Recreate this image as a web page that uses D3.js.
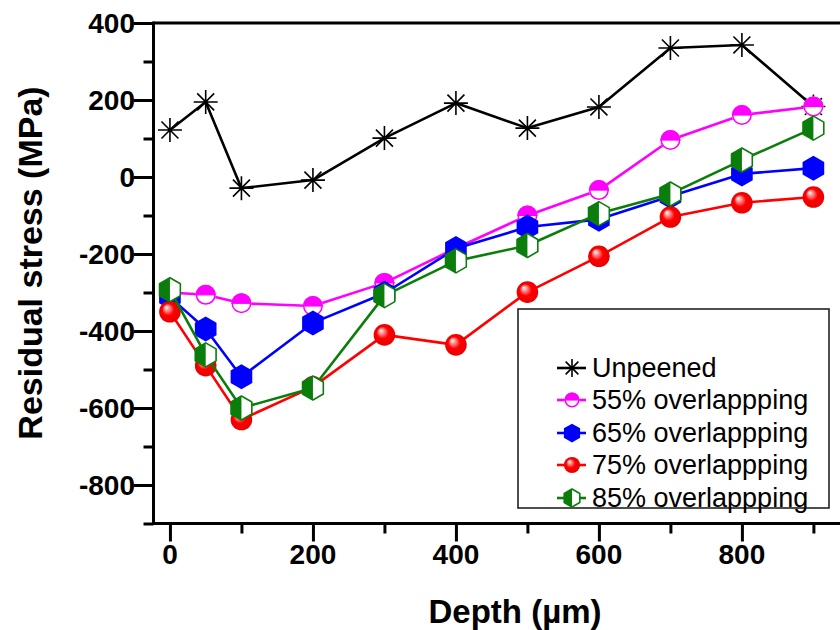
<!DOCTYPE html>
<html>
<head>
<meta charset="utf-8">
<script src="https://cdn.jsdelivr.net/npm/d3@7"></script>
<style>
  html, body { margin: 0; padding: 0; background: #fff; }
  svg { display: block; }
  text { font-family: "Liberation Sans", Arial, sans-serif; fill: #000; }
</style>
</head>
<body>
<svg id="chart" width="840" height="630"></svg>
<script>
// Depth positions (µm)
const depth = [0, 50, 100, 200, 300, 400, 500, 600, 700, 800, 900];

// Residual stress (MPa) for each condition
const unpeened = [122, 195, -29, -8, 101, 192, 127, 182, 335, 343, 183];
const overlap55 = [-300, -306, -328, -335, -275, -185, -100, -34, 96, 161, 183];
const overlap65 = [-312, -395, -519, -379, -302, -186, -130, -110, -50, 8, 23];
const overlap75 = [-350, -490, -630, -545, -410, -436, -299, -206, -104, -67, -52];
const overlap85 = [-293, -462, -600, -548, -308, -218, -178, -95, -44, 44, 127];

const seriesNames = ["Unpeened", "55% overlappping", "65% overlappping", "75% overlappping", "85% overlappping"];
const seriesColors = ["#000000", "#ff00ff", "#0000ff", "#ff0000", "#0a7d0a"];
const seriesMarkers = ["star", "halfCircle", "hexagon", "sphere", "halfHexagon"];

const xTickLabels = [0, 200, 400, 600, 800];
const yTickLabels = [-800, -600, -400, -200, 0, 200, 400];

const xTitle = "Depth (\u00b5m)";
const yTitle = "Residual stress (MPa)";

// ---------------------------------------------------------------
const svg = d3.select("#chart");
const defs = svg.append("defs");

const x = d3.scaleLinear().domain([-23, 940]).range([153.5, 842]);
const y = d3.scaleLinear().domain([-900, 400]).range([523.5, 23]);

const grad = defs.append("radialGradient")
  .attr("id", "sphereRed").attr("cx", "50%").attr("cy", "50%").attr("r", "50%")
  .attr("fx", "32%").attr("fy", "28%");
grad.append("stop").attr("offset", "0%").attr("stop-color", "#ffffff");
grad.append("stop").attr("offset", "22%").attr("stop-color", "#ff9a9a");
grad.append("stop").attr("offset", "55%").attr("stop-color", "#ff0000");
grad.append("stop").attr("offset", "100%").attr("stop-color", "#e80000");

defs.append("clipPath").attr("id", "plotClip")
  .append("rect").attr("x", 0).attr("y", 0).attr("width", 840).attr("height", 630);

function hexPoints(R) {
  return d3.range(6).map(i => {
    const a = (-90 + 60 * i) * Math.PI / 180;
    return [R * Math.cos(a), R * Math.sin(a)];
  });
}

function drawMarker(g, type, color, s) {
  if (type === "star") {
    const R = 12 * s;
    const p = d3.path();
    for (let i = 0; i < 4; i++) {
      const a = i * Math.PI / 4;
      p.moveTo(-R * Math.cos(a), -R * Math.sin(a));
      p.lineTo(R * Math.cos(a), R * Math.sin(a));
    }
    g.append("path").attr("d", p.toString())
      .attr("stroke", color).attr("stroke-width", 1.6).attr("fill", "none");
  } else if (type === "halfCircle") {
    const r = 10 * s;
    g.append("circle").attr("r", r).attr("fill", "#fff");
    g.append("path")
      .attr("d", `M${-r},0 A${r},${r} 0 0 1 ${r},0 Z`)
      .attr("fill", color);
    g.append("circle").attr("r", r - 0.75).attr("fill", "none")
      .attr("stroke", color).attr("stroke-width", 1.5);
    g.append("line").attr("x1", -r).attr("x2", r).attr("y1", 0).attr("y2", 0)
      .attr("stroke", color).attr("stroke-width", 1.2);
  } else if (type === "hexagon") {
    const pts = hexPoints(12.5 * s);
    g.append("polygon").attr("points", pts.map(d => d.join(",")).join(" "))
      .attr("fill", color);
  } else if (type === "sphere") {
    g.append("circle").attr("r", 10.8 * s).attr("fill", "url(#sphereRed)");
  } else if (type === "halfHexagon") {
    const R = 12 * s;
    const pts = hexPoints(R);
    g.append("polygon").attr("points", pts.map(d => d.join(",")).join(" "))
      .attr("fill", "#fff");
    // left half: top, upper-left, lower-left, bottom
    const left = [pts[0], pts[5], pts[4], pts[3]];
    g.append("polygon").attr("points", left.map(d => d.join(",")).join(" "))
      .attr("fill", color);
    g.append("polygon").attr("points", pts.map(d => d.join(",")).join(" "))
      .attr("fill", "none").attr("stroke", color).attr("stroke-width", 1.6)
      .attr("stroke-linejoin", "round");
  }
}

// ---------------- data series ----------------
const allSeries = [unpeened, overlap55, overlap65, overlap75, overlap85];
const line = d3.line().x(d => x(d[0])).y(d => y(d[1]));
const plot = svg.append("g").attr("clip-path", "url(#plotClip)");

allSeries.forEach((vals, i) => {
  const pts = depth.map((d, j) => [d, vals[j]]);
  const g = plot.append("g");
  g.append("path").datum(pts).attr("d", line)
    .attr("fill", "none").attr("stroke", seriesColors[i])
    .attr("stroke-width", 2.6).attr("stroke-linejoin", "round");
  pts.forEach(p => {
    const m = g.append("g").attr("transform", `translate(${x(p[0])},${y(p[1])})`);
    drawMarker(m, seriesMarkers[i], seriesColors[i], 1);
  });
});

// ---------------- axes ----------------
const axisW = 3;
const xMajor = d3.range(0, 901, 200);
const xMinor = d3.range(100, 901, 200);
const yMajor = yTickLabels;
const yMinor = d3.range(-900, 401, 200);

const axes = svg.append("g").attr("stroke", "#000").attr("stroke-width", axisW);

// x axis
const xAxis = d3.axisBottom(x).tickValues(xMajor).tickSize(18).tickFormat("");
const xg = svg.append("g").attr("transform", `translate(0,${y(-900)})`).call(xAxis);
xg.select(".domain").remove();
xg.selectAll(".tick line").attr("stroke-width", axisW);
const xAxisMinor = d3.axisBottom(x).tickValues(xMinor).tickSize(10).tickFormat("");
const xgm = svg.append("g").attr("transform", `translate(0,${y(-900)})`).call(xAxisMinor);
xgm.select(".domain").remove();
xgm.selectAll(".tick line").attr("stroke-width", axisW);

// y axis
const yAxis = d3.axisLeft(y).tickValues(yMajor).tickSize(20).tickFormat("");
const yg = svg.append("g").attr("transform", `translate(${x(-23)},0)`).call(yAxis);
yg.select(".domain").remove();
yg.selectAll(".tick line").attr("stroke-width", axisW);
const yAxisMinor = d3.axisLeft(y).tickValues(yMinor).tickSize(10).tickFormat("");
const ygm = svg.append("g").attr("transform", `translate(${x(-23)},0)`).call(yAxisMinor);
ygm.select(".domain").remove();
ygm.selectAll(".tick line").attr("stroke-width", axisW);

// frame lines: left, bottom, top
axes.append("line").attr("x1", x(-23)).attr("x2", x(-23)).attr("y1", y(400) - 1.5).attr("y2", y(-900) + 1.5);
axes.append("line").attr("x1", x(-23)).attr("x2", 840).attr("y1", y(-900)).attr("y2", y(-900));
axes.append("line").attr("x1", x(-23)).attr("x2", 840).attr("y1", y(400)).attr("y2", y(400));

// tick labels
svg.append("g").selectAll("text").data(xTickLabels).join("text")
  .attr("x", d => x(d)).attr("y", 564)
  .attr("text-anchor", "middle").attr("font-size", 28).attr("font-weight", "bold")
  .text(d => d);

svg.append("g").selectAll("text").data(yTickLabels).join("text")
  .attr("x", 135).attr("y", d => y(d) + 10)
  .attr("text-anchor", "end").attr("font-size", 28).attr("font-weight", "bold")
  .text(d => d);

// axis titles
svg.append("text").attr("x", 515).attr("y", 623)
  .attr("text-anchor", "middle").attr("font-size", 33).attr("font-weight", "bold")
  .text(xTitle);
svg.append("text").attr("transform", "translate(42,263) rotate(-90)")
  .attr("text-anchor", "middle").attr("font-size", 34).attr("font-weight", "bold")
  .text(yTitle);

// ---------------- legend ----------------
const legend = svg.append("g");
legend.append("rect").attr("x", 518).attr("y", 309).attr("width", 311).attr("height", 199)
  .attr("fill", "#fff").attr("stroke", "#222").attr("stroke-width", 1.6);
const rowY = [368, 400, 433, 465, 498];
seriesNames.forEach((name, i) => {
  const g = legend.append("g");
  g.append("line").attr("x1", 557).attr("x2", 586).attr("y1", rowY[i]).attr("y2", rowY[i])
    .attr("stroke", seriesColors[i]).attr("stroke-width", 2.6);
  const m = g.append("g").attr("transform", `translate(572,${rowY[i]})`);
  drawMarker(m, seriesMarkers[i], seriesColors[i], 0.75);
  g.append("text").attr("x", 592).attr("y", rowY[i] + 9)
    .attr("font-size", 27).text(name);
});
</script>
</body>
</html>
